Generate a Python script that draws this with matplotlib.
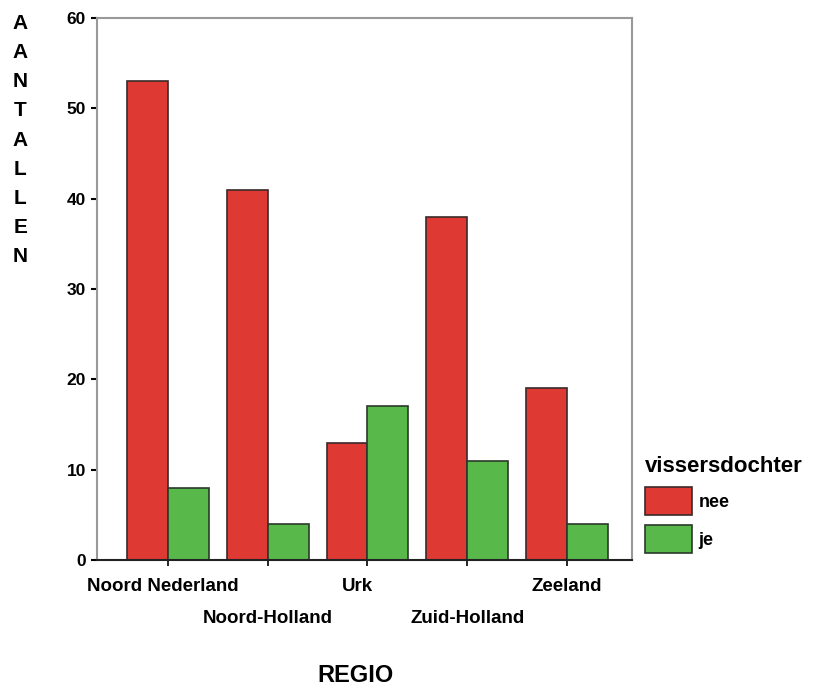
import numpy as np
import matplotlib
matplotlib.use("Agg")
import matplotlib.pyplot as plt

# data
regio = ["Noord Nederland", "Noord-Holland", "Urk", "Zuid-Holland", "Zeeland"]
nee = [53, 41, 13, 38, 19]
je = [8, 4, 17, 11, 4]

rood = "#de3a33"
groen = "#58b94a"

plt.rcParams['font.family'] = ['Liberation Sans', 'DejaVu Sans']

fig = plt.figure(figsize=(8.18, 6.95), dpi=100)
ax = fig.add_axes([0.1186, 0.1942, 0.654, 0.7798])

x = np.arange(len(regio))
w = 0.41
ax.bar(x - w / 2, nee, w, color=rood, edgecolor="#3a2a2a", linewidth=1.2, label="nee")
ax.bar(x + w / 2, je, w, color=groen, edgecolor="#2a3a2a", linewidth=1.2, label="je")

ax.set_xlim(-0.71, 4.65)
ax.set_ylim(0, 60)
ax.set_yticks(range(0, 61, 10))
ax.tick_params(axis='y', length=4, width=1.5, pad=4, labelsize=12.5)
for t in ax.get_yticklabels():
    t.set_fontweight('bold')

# x labels alternating on two rows
ax.set_xticks(x)
ax.set_xticklabels([])
ax.tick_params(axis='x', length=4, width=1.2)
for i, r in enumerate(regio):
    dy = -0.048 if i % 2 == 0 else -0.107
    ax.text(i - 0.05 if i == 0 else i - 0.1 if i == 2 else i, dy, r,
            transform=ax.get_xaxis_transform(),
            ha='center', va='center', fontsize=13.5, fontweight='bold')

for s in ['top', 'right', 'left']:
    ax.spines[s].set_color('#999999')
    ax.spines[s].set_linewidth(1.5)
ax.spines['bottom'].set_color('#222222')
ax.spines['bottom'].set_linewidth(1.5)

# y label as stacked letters
fig.text(0.025, 0.98, "\n".join("AANTALLEN"), ha='center', va='top',
         fontsize=15, fontweight='bold', linespacing=1.68)
fig.text(0.434, 0.012, "REGIO", ha='center', va='bottom', fontsize=17, fontweight='bold')

leg = ax.legend(title="vissersdochter", loc='upper left', bbox_to_anchor=(1.0, 0.215),
                frameon=False, fontsize=13, title_fontsize=16,
                handlelength=2.6, handleheight=2.0, handletextpad=0.4,
                labelspacing=0.55, alignment='left', borderaxespad=0.3)
for t in leg.get_texts():
    t.set_fontweight('bold')
leg.get_title().set_fontweight('bold')

fig.savefig("out.png", dpi=100)
